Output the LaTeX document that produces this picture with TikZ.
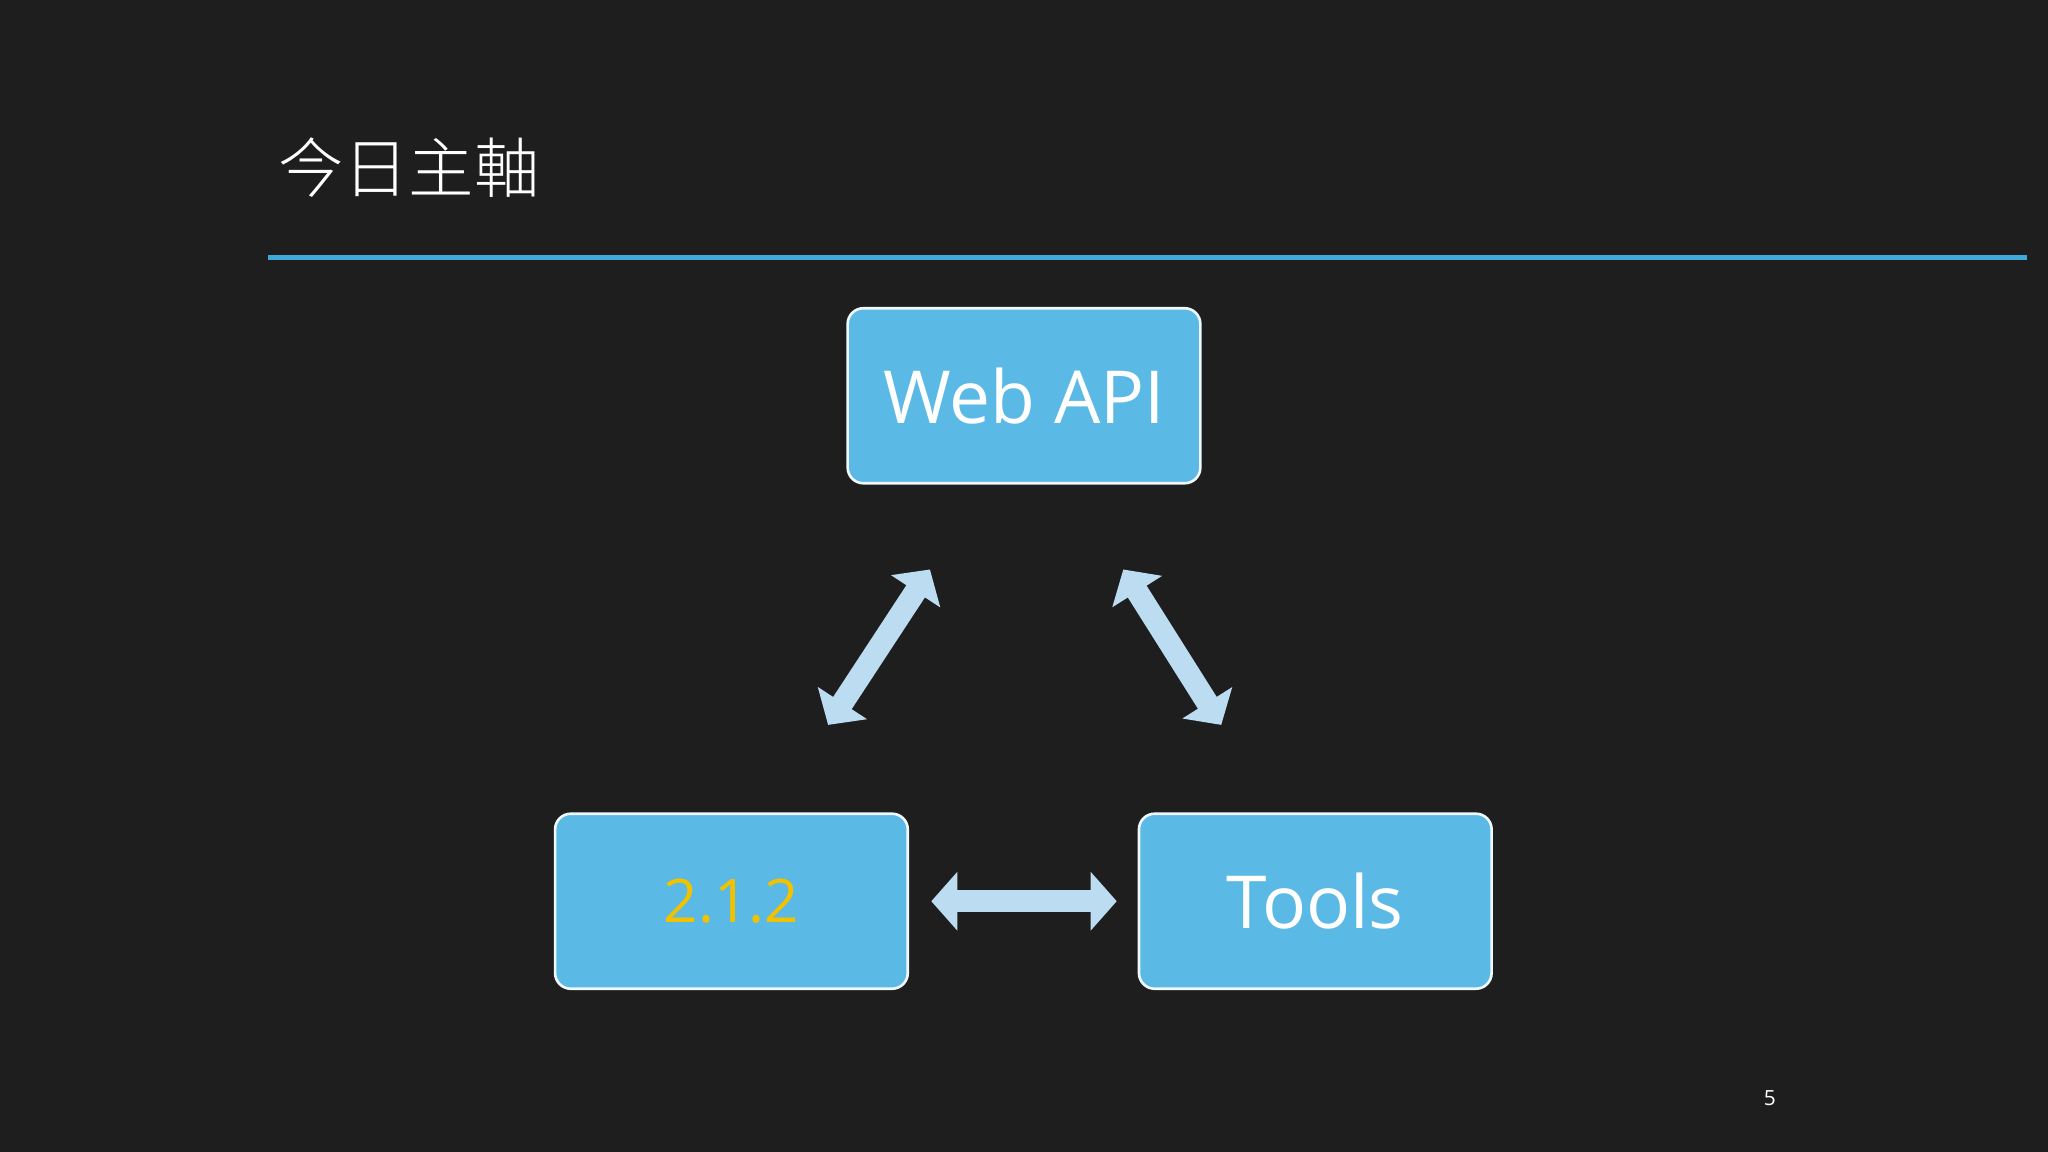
\documentclass[tikz,border=0pt]{standalone}
\usepackage{fontspec}
\setmainfont{Open Sans}
\newfontfamily\cjk{Noto Sans CJK TC Light}
\usetikzlibrary{arrows.meta}
\definecolor{bg}{HTML}{1E1E1E}
\definecolor{boxblue}{HTML}{5BB9E5}
\definecolor{arrblue}{HTML}{BCDDF1}
\definecolor{linebl}{HTML}{3FA9D9}
\definecolor{ylw}{HTML}{F2C200}
\tikzset{
  box/.style={draw=white!90!boxblue, line width=1pt, fill=boxblue, rounded corners=6pt,
    minimum width=135pt, minimum height=67pt, inner sep=0pt, font=\fontsize{28}{34}\selectfont, text=white},
  fat/.style={draw=arrblue, line width=8.5pt, {Triangle[width=22pt,length=10pt]}-{Triangle[width=22pt,length=10pt]}}
}
\begin{document}
\begin{tikzpicture}[x=0.5pt,y=-0.5pt]
\fill[bg] (0,0) rectangle (1568,882);
\useasboundingbox (0,0) rectangle (1568,882);
\node[anchor=west, text=white, font=\cjk\fontsize{25}{30}\selectfont] (title) at (206,128) {今日主軸};
\coordinate (l1) at (205,197);
\coordinate (l2) at (1552,197);
\draw[linebl, line width=2pt] (l1) -- (l2);
\node[box] (web) at (784,303) {Web API};
\node[box, text=ylw, font=\fontsize{23}{28}\selectfont] (ver) at (560,690) {2.1.2};
\node[box] (tools) at (1007,690) {Tools};
\coordinate (a1) at (634,555);
\coordinate (a2) at (712,436);
\coordinate (b1) at (860,436);
\coordinate (b2) at (935,555);
\coordinate (c1) at (713,690);
\coordinate (c2) at (855,690);
\draw[fat] (a1) -- (a2);
\draw[fat] (b1) -- (b2);
\draw[fat] (c1) -- (c2);
\node[text=white, font=\fontsize{8}{10}\selectfont] (pg) at (1355,841) {5};
\end{tikzpicture}
\end{document}
